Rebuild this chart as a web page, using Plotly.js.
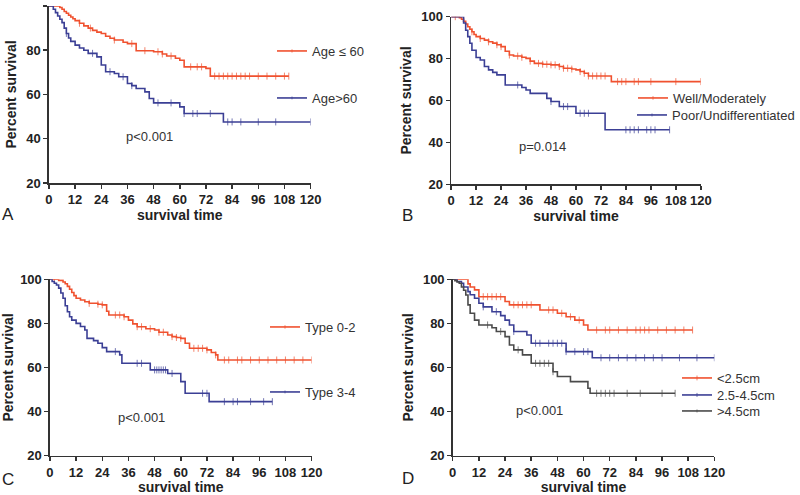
<!DOCTYPE html>
<html><head><meta charset="utf-8">
<script src="https://cdn.plot.ly/plotly-3.0.1.min.js"></script>
<style>html,body{margin:0;padding:0;background:#fff}#chart{width:800px;height:495px}</style>
</head><body><div id="chart"></div>
<script>
// ---------- DATA (months, percent survival) ----------
// Panel A
const ageLowName = 'Age \u2264 60';
const ageLowTimes = [0,5,6,7,8,9,10,11,12,14,16,18,20,22,24,26,28,30,34,36,40,48,52,54,58,60,62,72,74];
const ageLowSurv  = [100,99.3,98.5,97.5,96.7,95.8,95,94.2,93.4,92.2,91,90,89,88.2,87.6,86.3,85.4,84.6,83.6,83,79.8,79.3,78.3,77.4,76.4,75.5,72.5,71.8,68.3];
const ageLowCens  = [14,19,30,38,44,50,52,56,65,68,70,76,78,80,82,84,86,88,90,92,96,100,104,108,110];
const ageHighName = 'Age>60';
const ageHighTimes = [0,2,3,4,5,6,7,8,9,10,12,14,16,18,22,24,26,30,32,36,38,40,44,46,48,60,62,80];
const ageHighSurv  = [100,98.5,97,95.5,94,92.5,90,87.6,85.5,84,82.3,81,80,78.6,77,73.3,70.3,69.5,68,65,64,62.7,61.2,58.2,56.2,54.4,51.4,47.6];
const ageHighCens  = [8,20,28,34,38,50,56,62,66,68,74,82,84,88,96,104,120];
// Panel B
const wellName = 'Well/Moderately';
const wellTimes = [0,4,5,6,7,8,9,10,11,12,14,16,18,20,22,24,26,28,30,34,36,38,40,44,48,52,54,58,60,62,64,66,77];
const wellSurv  = [100,99.5,98.8,97.8,96.5,95.2,94,92.8,91.5,90.5,89.6,88.8,88,87.4,86.6,85.7,83.5,81.7,81.2,80.6,80.1,78.8,77.7,77.3,77,76.2,75.4,75,74.6,73.8,73,71.7,69];
const wellCens  = [2,10,14,18,22,24,28,32,34,38,42,44,46,48,50,52,54,56,58,62,64,66,68,70,72,74,80,82,84,88,90,96,108,120];
const poorName = 'Poor/Undifferentiated';
const poorTimes = [0,6,7,8,9,10,12,14,16,18,20,22,26,34,36,38,46,48,52,60,74];
const poorSurv  = [100,97,93.5,90.5,87.3,84,80.5,79.3,76.2,74.6,73.4,72.2,67.4,66.2,65,63.4,61,59.5,57.1,53.9,46];
const poorCens  = [32,48,54,56,62,64,66,84,86,88,90,94,96,98,105];
// Panel C
const type02Name = 'Type 0-2';
const type02Times = [0,4,6,7,8,9,10,11,12,14,16,18,22,24,26,27,34,36,38,40,44,48,50,54,56,58,60,62,64,72,74,76,77];
const type02Surv  = [100,99.5,98.8,98,96.8,95.5,94,92.6,91.4,90.6,89.8,89.1,88.7,88.4,85.5,83.8,83,81.5,79.8,78.5,77.6,77,76,74.7,74,73.6,73.2,71,68.7,68,66.8,65.7,63.4];
const type02Cens  = [2,18,22,24,30,32,34,40,42,46,50,52,56,58,60,66,68,70,72,76,80,82,86,88,92,96,100,104,108,112,116,120];
const type34Name = 'Type 3-4';
const type34Times = [0,1,2,3,4,5,6,7,8,9,10,12,14,16,17,20,22,24,26,32,33,46,54,60,62,73];
const type34Surv  = [100,99,98.2,97.4,96,93.8,91.4,88,85.3,83,81.5,80,78.6,77,73.2,72.2,71,69,67.2,65.7,61.9,58.9,57.3,53.6,48.3,44.5];
const type34Cens  = [30,40,42,48,49,50,51,52,53,56,70,72,80,84,86,92,98,102];
// Panel D
const smallName = '<2.5cm';
const smallTimes = [0,7,8,10,12,24,26,40,48,52,56,60,62];
const smallSurv  = [100,97.9,96.5,95.2,92.1,89.9,88.4,86.1,84.6,83,81.5,79.3,77];
const smallCens  = [14,16,18,20,22,28,30,32,34,36,44,46,50,54,58,66,70,72,76,80,84,86,88,90,94,98,102,106,110];
const midName = '2.5-4.5cm';
const midTimes = [0,2,4,5,7,8,10,12,14,18,22,24,26,28,34,36,52,64];
const midSurv  = [100,99,98.2,96.5,94.4,93,91.4,89.1,87.5,85.3,83.5,81.5,79.3,76.3,74.7,71,67.2,64.4];
const midCens  = [14,20,28,38,40,44,46,48,50,52,56,60,62,68,72,76,80,84,88,92,96,104,112,120];
const largeName = '>4.5cm';
const largeTimes = [0,1,2,3,4,5,6,7,8,10,12,18,20,24,26,28,32,36,46,48,54,62,63];
const largeSurv  = [100,99.4,98.8,98.2,96.5,95,92.9,88.4,84.6,81.5,79.3,78,76.3,74,70.2,68,65.7,61.9,58.1,55.9,53.6,50.6,48.3];
const largeCens  = [16,22,30,38,40,42,44,46,66,68,70,72,74,80,86,96,102];

const pTexts = ['p<0.001','p=0.014','p<0.001','p<0.001'];
const panelLetters = ['A','B','C','D'];
const xTicks = [0,12,24,36,48,60,72,84,96,108,120];
const yTicks = [20,40,60,80,100];
const xTitle = 'survival time';
const yTitle = 'Percent survival';

// ---------- STYLE ----------
const RED = '#f0512f', BLUE = '#3b3f95', GRAY = '#4a4a4a';
const FONT = 'Liberation Sans, Arial, sans-serif';

function survAt(times, surv, t){
  let v = surv[0];
  for(let i=0;i<times.length;i++){ if(times[i] <= t) v = surv[i]; }
  return v;
}
function kmTrace(name, times, surv, cens, color, xa, ya, leg){
  const pts = [];
  times.forEach((t,i)=>pts.push({x:t, y:surv[i], s:0, o:0}));
  cens.forEach(c=>pts.push({x:c, y:survAt(times,surv,c), s:5, o:1}));
  pts.sort((a,b)=> a.x-b.x || a.o-b.o);
  return {
    type:'scatter', mode:'lines+markers', name:name,
    x:pts.map(p=>p.x), y:pts.map(p=>p.y),
    line:{shape:'hv', color:color, width:1.6},
    marker:{symbol:'line-ns', size:pts.map(p=>p.s), color:color, line:{color:color, width:1}},
    xaxis:xa, yaxis:ya, legend:leg, hoverinfo:'skip'
  };
}

const data = [
  kmTrace(ageLowName, ageLowTimes, ageLowSurv, ageLowCens, RED, 'x','y','legend'),
  kmTrace(ageHighName, ageHighTimes, ageHighSurv, ageHighCens, BLUE, 'x','y','legend2'),
  kmTrace(wellName, wellTimes, wellSurv, wellCens, RED, 'x2','y2','legend3'),
  kmTrace(poorName, poorTimes, poorSurv, poorCens, BLUE, 'x2','y2','legend4'),
  kmTrace(type02Name, type02Times, type02Surv, type02Cens, RED, 'x3','y3','legend5'),
  kmTrace(type34Name, type34Times, type34Surv, type34Cens, BLUE, 'x3','y3','legend6'),
  kmTrace(smallName, smallTimes, smallSurv, smallCens, RED, 'x4','y4','legend7'),
  kmTrace(midName, midTimes, midSurv, midCens, BLUE, 'x4','y4','legend8'),
  kmTrace(largeName, largeTimes, largeSurv, largeCens, GRAY, 'x4','y4','legend9')
];

function xax(domain, anchor){
  return {domain:domain, anchor:anchor, range:[0,120], tickvals:xTicks, showline:true, linecolor:'#333', linewidth:1.5,
    ticks:'outside', ticklen:4, tickwidth:1.5, tickcolor:'#333', showgrid:false, zeroline:false, automargin:false,
    tickfont:{family:FONT, size:13, weight:'bold', color:'#222'},
    title:{text:xTitle, font:{family:FONT, size:14, weight:'bold', color:'#222'}, standoff:4}};
}
function yax(domain, anchor){
  return {domain:domain, anchor:anchor, range:[20,100], tickvals:yTicks, showline:true, linecolor:'#333', linewidth:1.5,
    ticks:'outside', ticklen:4, tickwidth:1.5, tickcolor:'#333', showgrid:false, zeroline:false, automargin:false,
    tickfont:{family:FONT, size:13, weight:'bold', color:'#222'},
    title:{text:yTitle, font:{family:FONT, size:14, weight:'bold', color:'#222'}, standoff:6}};
}
function leg(textX, centerY){
  return {x:(textX-38)/800, y:1-centerY/495, xanchor:'left', yanchor:'middle', bgcolor:'rgba(0,0,0,0)', borderwidth:0,
    font:{family:FONT, size:13, color:'#333'}, itemwidth:30};
}

const pPos = [[150,136],[543,146],[142,417],[540,410]];
const lPos = [[8,214],[408,216],[8,479],[409,478]];
const annotations = [];
pTexts.forEach((t,i)=>annotations.push({text:t, xref:'paper', yref:'paper', x:pPos[i][0]/800, y:1-pPos[i][1]/495,
  xanchor:'center', yanchor:'middle', showarrow:false, font:{family:FONT, size:13, color:'#333'}}));
panelLetters.forEach((t,i)=>annotations.push({text:t, xref:'paper', yref:'paper', x:lPos[i][0]/800, y:1-lPos[i][1]/495,
  xanchor:'center', yanchor:'middle', showarrow:false, font:{family:FONT, size:17, color:'#222'}}));

const layout = {
  width:800, height:495, margin:{l:0,r:0,t:0,b:0}, paper_bgcolor:'#fff', plot_bgcolor:'#fff',
  showlegend:true,
  xaxis: xax([0.06125,0.38875],'y'),  yaxis: yax([0.6303,0.9879],'x'),
  xaxis2:xax([0.5646,0.8771],'y2'),   yaxis2:yax([0.6277,0.9663],'x2'),
  xaxis3:xax([0.0625,0.39],'y3'),     yaxis3:yax([0.0794,0.4358],'x3'),
  xaxis4:xax([0.5666,0.8941],'y4'),   yaxis4:yax([0.0794,0.4358],'x4'),
  legend: leg(310, 51),  legend2:leg(310, 98),
  legend3:leg(671, 98),  legend4:leg(671, 115),
  legend5:leg(303, 327), legend6:leg(303, 392),
  legend7:leg(715, 378), legend8:leg(715, 395), legend9:leg(715, 411),
  annotations:annotations
};
Plotly.newPlot('chart', data, layout, {staticPlot:true, displayModeBar:false});
</script></body></html>
